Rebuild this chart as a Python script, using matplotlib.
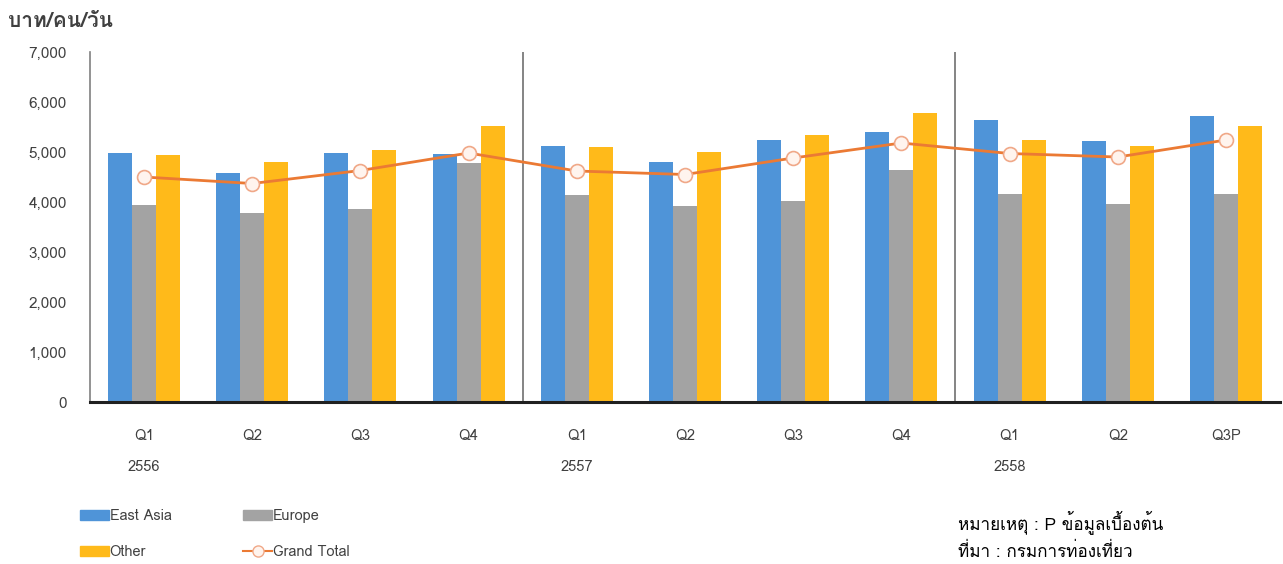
import numpy as np
import matplotlib
matplotlib.use("Agg")
import matplotlib.pyplot as plt
from matplotlib import font_manager, ft2font
from matplotlib.patches import Patch
from matplotlib.lines import Line2D

# Data (baht per person per day)
quarters = ['Q1', 'Q2', 'Q3', 'Q4', 'Q1', 'Q2', 'Q3', 'Q4', 'Q1', 'Q2', 'Q3P']
years = ['2556', '', '', '', '2557', '', '', '', '2558', '', '']
east_asia = [4980, 4580, 4980, 4960, 5130, 4800, 5250, 5400, 5640, 5220, 5730]
europe = [3940, 3790, 3870, 4780, 4140, 3930, 4030, 4650, 4170, 3970, 4170]
other = [4950, 4800, 5040, 5520, 5100, 5010, 5340, 5780, 5250, 5130, 5520]
grand_total = [4500, 4370, 4630, 4980, 4620, 4550, 4880, 5180, 4970, 4900, 5240]
year_breaks = [4, 8]  # category index where a new year starts


# find an installed font that has Thai glyphs
def find_thai_font():
    for f in font_manager.fontManager.ttflist:
        try:
            cmap = ft2font.FT2Font(f.fname).get_charmap()
        except Exception:
            continue
        if 0x0E01 in cmap and 0x0E35 in cmap:
            return f.name
    return None


thai = find_thai_font()
fams = [thai, 'DejaVu Sans'] if thai else ['DejaVu Sans']
plt.rcParams['font.family'] = fams

c_blue = '#4F94D8'
c_grey = '#A3A3A3'
c_gold = '#FFBA1A'
c_line = '#EB7A34'
txt = '#404040'

fig = plt.figure(figsize=(12.83, 5.64), dpi=100)
ax = fig.add_axes([0.0701, 0.2872, 0.9276, 0.6206])

x = np.arange(len(quarters))
w = 0.222
ax.bar(x - w, east_asia, w, color=c_blue, label='East Asia')
ax.bar(x, europe, w, color=c_grey, label='Europe')
ax.bar(x + w, other, w, color=c_gold, label='Other')
ax.plot(x, grand_total, color=c_line, lw=2, marker='o', ms=10,
        mfc='#FFF4EE', mec='#F0A888', mew=1.2, zorder=5, label='Grand Total')

ax.set_xlim(-0.5, len(quarters) - 0.5)
ax.set_ylim(0, 7000)
ax.set_yticks(range(0, 7001, 1000))
ax.set_yticklabels([f'{v:,}' for v in range(0, 7001, 1000)], color=txt, fontsize=11)
ax.tick_params(axis='y', length=0, pad=16.5)
ax.tick_params(axis='x', length=0)
ax.set_xticks(x)
ax.set_xticklabels([])

for s in ['top', 'right']:
    ax.spines[s].set_visible(False)
ax.spines['left'].set_color('#808080')
ax.spines['left'].set_linewidth(1.2)
ax.spines['bottom'].set_color('#202020')
ax.spines['bottom'].set_linewidth(2.2)

for b in year_breaks:
    ax.axvline(b - 0.5, color='#707070', lw=1.2)

# quarter and year labels
for i, (q, yr) in enumerate(zip(quarters, years)):
    ax.text(i, -0.097, q, transform=ax.get_xaxis_transform(), ha='center',
            va='center', fontsize=10.5, color=txt)
    if yr:
        ax.text(i, -0.185, yr, transform=ax.get_xaxis_transform(), ha='center',
                va='center', fontsize=10.5, color=txt)

fig.text(0.006, 0.962, 'บาท/คน/วัน', fontsize=15, fontweight='bold', color=txt,
         va='center', ha='left')

handles = [Patch(color=c_blue), Patch(color=c_gold), Patch(color=c_grey),
           Line2D([], [], color=c_line, lw=1.5, marker='o', ms=8,
                  mfc='#FFF4EE', mec='#F0A888')]
labels = ['East Asia', 'Other', 'Europe', 'Grand Total']
fig.legend(handles, labels, ncol=2, loc='upper left', bbox_to_anchor=(0.052, 0.12),
           frameon=False, fontsize=10.5, handlelength=2.0, handleheight=0.7,
           handletextpad=0.05, columnspacing=4.9, labelspacing=1.5,
           labelcolor=txt)

fig.text(0.747, 0.074, 'หมายเหตุ : P ข้อมูลเบื้องต้น', fontsize=12.3, va='center')
fig.text(0.747, 0.022, 'ที่มา : กรมการท่องเที่ยว', fontsize=12.3, va='center')

fig.savefig('out.png', dpi=100)
